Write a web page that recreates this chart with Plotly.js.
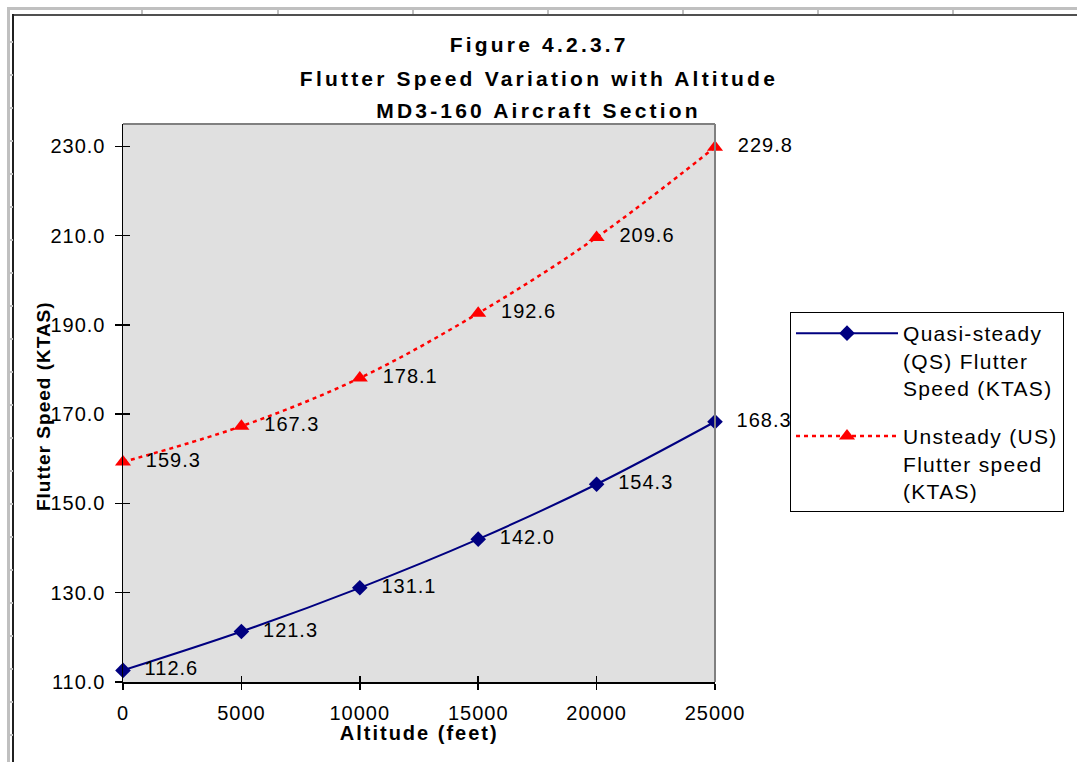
<!DOCTYPE html>
<html>
<head>
<meta charset="utf-8">
<script src="https://cdn.plot.ly/plotly-3.0.1.min.js"></script>
<style>
  html, body { margin: 0; padding: 0; background: #ffffff; }
  #wrap { position: relative; width: 1077px; height: 762px; overflow: hidden; }
  #frame { position: absolute; left: 0; top: 0; width: 1077px; height: 762px; }
  #chart { position: absolute; left: 0; top: 0; width: 1077px; height: 762px; }
  /* applied both to drawn text and to Plotly's measuring node */
  svg text { letter-spacing: 1.3px; }
  #chart .xtick text, #chart .ytick text { letter-spacing: 1px; }
  #chart .textpoint text { letter-spacing: 1px; }
  #chart .annotation[data-index="0"] text,
  #chart .annotation[data-index="1"] text,
  #chart .annotation[data-index="2"] text { letter-spacing: 3.2px; }
  #chart .annotation[data-index="3"] text { letter-spacing: 2px; }
  #chart .annotation[data-index="4"] text { letter-spacing: 1px; }
  .ln { position: absolute; }
</style>
</head>
<body>
<div id="wrap">
  <div id="frame"></div>
  <div id="chart"></div>
</div>
<script>
// ---- data ----
const altitudes = [0, 5000, 10000, 15000, 20000, 25000];
const qsSpeed = [112.6, 121.3, 131.1, 142.0, 154.3, 168.3];
const usSpeed = [159.3, 167.3, 178.1, 192.6, 209.6, 229.8];
const qsName = "Quasi-steady<br>(QS) Flutter<br>Speed (KTAS)";
const usName = "Unsteady (US)<br>Flutter speed<br>(KTAS)";
const titleLines = ["Figure 4.2.3.7", "Flutter Speed Variation with Altitude", "MD3-160 Aircraft Section"];
const xTitle = "Altitude (feet)";
const yTitle = "Flutter Speed (KTAS)";

// ---- spreadsheet-like frame decoration ----
(function () {
  const f = document.getElementById('frame');
  function add(l, t, w, h, c) {
    const d = document.createElement('div');
    d.className = 'ln';
    d.style.left = l + 'px'; d.style.top = t + 'px';
    d.style.width = w + 'px'; d.style.height = h + 'px';
    d.style.background = c;
    f.appendChild(d);
  }
  add(7, 7, 3, 755, '#c0c0c0');
  add(7, 7, 1070, 3, '#c0c0c0');
  add(13, 14, 1064, 2, '#505050');
  add(12, 14, 2, 748, '#202020');
  [141, 277, 412, 547, 682, 817, 952].forEach(x => add(x, 9, 2, 5, '#c0c0c0'));
  for (let y = 41; y < 762; y += 33) add(9, y, 4, 2, '#c0c0c0');
})();

const FONT = 'Liberation Sans, Arial, sans-serif';

const traces = [
  {
    x: altitudes, y: qsSpeed, name: qsName, legendgroup: 'qs',
    type: 'scatter', mode: 'lines+markers+text',
    line: { color: '#000080', width: 2, shape: 'spline' },
    marker: { symbol: 'diamond', size: 12, color: '#000080' },
    texttemplate: '  %{y:.1f}', textposition: 'middle right',
    textfont: { family: FONT, size: 20, color: '#000000' },
    cliponaxis: false, hoverinfo: 'x+y'
  },
  {
    x: altitudes, y: usSpeed, name: usName, legendgroup: 'us',
    type: 'scatter', mode: 'lines+markers+text',
    line: { color: '#ff0000', width: 2.5, shape: 'spline', dash: '4px,4px' },
    marker: { symbol: 'triangle-up', size: 14, color: '#ff0000' },
    texttemplate: '  %{y:.1f}', textposition: 'middle right',
    textfont: { family: FONT, size: 20, color: '#000000' },
    cliponaxis: false, hoverinfo: 'x+y'
  },
  // overlay axes carrying inner halves of the crossing ticks
  { x: altitudes, y: qsSpeed, xaxis: 'x2', yaxis: 'y2', type: 'scatter', mode: 'none',
    showlegend: false, hoverinfo: 'skip' }
];

// title annotation positions (paper units)
const titleY = [1.1416, 1.0824, 1.0233];

const layout = {
  width: 1077, height: 762,
  margin: { l: 123, r: 362, t: 124, b: 80, pad: 0 },
  paper_bgcolor: 'rgba(0,0,0,0)',
  plot_bgcolor: '#e0e0e0',
  font: { family: FONT, size: 20, color: '#000000' },
  showlegend: true,
  xaxis: {
    range: [0, 25000], dtick: 5000, tick0: 0, tickformat: 'd',
    showgrid: false, zeroline: false,
    showline: true, linecolor: '#000000', linewidth: 1.5,
    ticks: 'outside', ticklen: 6, tickwidth: 1.5, tickcolor: '#000000',
    ticklabelstandoff: 6,
    tickfont: { family: FONT, size: 20, color: '#000000' },
    fixedrange: true
  },
  yaxis: {
    range: [110, 235], dtick: 20, tick0: 110, tickformat: '.1f',
    showgrid: false, zeroline: false,
    showline: true, linecolor: '#000000', linewidth: 1.5,
    ticks: 'outside', ticklen: 7, tickwidth: 1.5, tickcolor: '#000000',
    ticklabelstandoff: 5,
    tickfont: { family: FONT, size: 20, color: '#000000' },
    fixedrange: true
  },
  xaxis2: {
    overlaying: 'x', matches: 'x', side: 'bottom', anchor: 'y2',
    range: [0, 25000], dtick: 5000, tick0: 0,
    showgrid: false, zeroline: false, showline: false, showticklabels: false,
    ticks: 'inside', ticklen: 6, tickwidth: 1.5, tickcolor: '#000000', fixedrange: true
  },
  yaxis2: {
    overlaying: 'y', matches: 'y', side: 'left', anchor: 'x2',
    range: [110, 235], dtick: 20, tick0: 110,
    showgrid: false, zeroline: false, showline: false, showticklabels: false,
    ticks: 'inside', ticklen: 7, tickwidth: 1.5, tickcolor: '#000000', fixedrange: true
  },
  legend: {
    x: 1.1267, y: 0.6631, xanchor: 'left', yanchor: 'top',
    bgcolor: '#ffffff', bordercolor: '#000000', borderwidth: 1,
    font: { family: FONT, size: 21, color: '#000000' },
    valign: 'top', tracegroupgap: 18, itemwidth: 102,
    traceorder: 'grouped'
  },
  shapes: [
    { type: 'line', xref: 'paper', yref: 'paper', x0: 0, x1: 1, y0: 1, y1: 1,
      line: { color: '#808080', width: 2 }, layer: 'above' },
    { type: 'line', xref: 'paper', yref: 'paper', x0: 1, x1: 1, y0: 0, y1: 1,
      line: { color: '#808080', width: 2 }, layer: 'above' }
  ],
  annotations: titleLines.map((t, i) => ({
    text: '<b>' + t + '</b>', xref: 'paper', yref: 'paper',
    x: 0.7027, y: titleY[i], xanchor: 'center', yanchor: 'middle',
    showarrow: false, font: { family: FONT, size: 21, color: '#000000' }
  })).concat([
    { text: '<b>' + xTitle + '</b>', xref: 'paper', yref: 'paper',
      x: 0.5, y: -0.0914, xanchor: 'center', yanchor: 'middle',
      showarrow: false, font: { family: FONT, size: 20, color: '#000000' } },
    { text: '<b>' + yTitle + '</b>', xref: 'paper', yref: 'paper',
      x: -0.1351, y: 0.4946, xanchor: 'center', yanchor: 'middle', textangle: -90,
      showarrow: false, font: { family: FONT, size: 19, color: '#000000' } }
  ])
};

Plotly.newPlot('chart', traces, layout, { displayModeBar: false, staticPlot: true });
</script>
</body>
</html>
